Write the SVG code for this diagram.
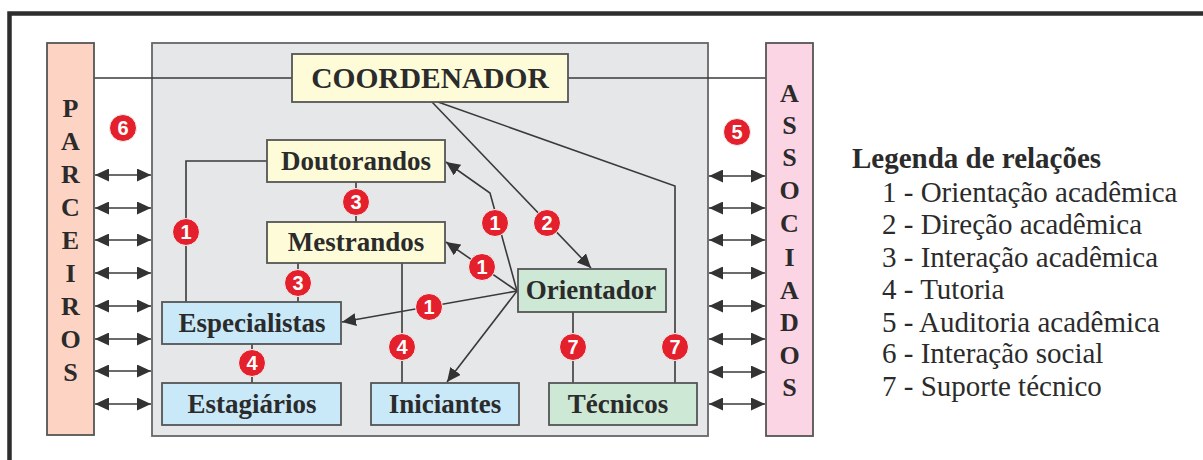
<svg xmlns="http://www.w3.org/2000/svg" width="1203" height="460" viewBox="0 0 1203 460">
<style>
.box{stroke:#555;stroke-width:1.8}
.lbl{font-family:"Liberation Serif","Times New Roman",serif;font-weight:bold;font-size:27px;fill:#2b2b2b;text-anchor:middle}
.vl{font-family:"Liberation Serif","Times New Roman",serif;font-weight:bold;font-size:26px;fill:#2b2b2b;text-anchor:middle}
.ln{fill:none;stroke:#3a3a3a;stroke-width:1.6}
.bd circle{fill:#e3202c;stroke:#f4f4f4;stroke-width:1}
.bd text{font-family:"Liberation Sans",Arial,sans-serif;font-weight:bold;font-size:20px;fill:#fff;text-anchor:middle}
.lg{font-family:"Liberation Serif","Times New Roman",serif;font-size:29px;fill:#2b2b2b}
</style>
<defs>
<marker id="ah" markerUnits="userSpaceOnUse" markerWidth="15" markerHeight="13" refX="14" refY="6.5" orient="auto-start-reverse">
<path d="M0,0 L14,6.5 L0,13 Z" fill="#333"/>
</marker>
</defs>
<rect width="1203" height="460" fill="#fff"/>
<path d="M9.5,460 V13.5 H1203" fill="none" stroke="#2d2d2d" stroke-width="4.5"/>

<g id="main-area"><rect x="152" y="43" width="556" height="393" fill="#e6e7e9" stroke="#666" stroke-width="1.8"/></g>

<g id="connectors">
<line class="ln" x1="94" y1="78" x2="292" y2="78"/>
<line class="ln" x1="568" y1="78" x2="766" y2="78"/>
<g marker-start="url(#ah)" marker-end="url(#ah)">
<line class="ln" x1="95" y1="175" x2="151" y2="175"/>
<line class="ln" x1="95" y1="208" x2="151" y2="208"/>
<line class="ln" x1="95" y1="240" x2="151" y2="240"/>
<line class="ln" x1="95" y1="273" x2="151" y2="273"/>
<line class="ln" x1="95" y1="306" x2="151" y2="306"/>
<line class="ln" x1="95" y1="339" x2="151" y2="339"/>
<line class="ln" x1="95" y1="371" x2="151" y2="371"/>
<line class="ln" x1="95" y1="404" x2="151" y2="404"/>
<line class="ln" x1="709" y1="176" x2="765" y2="176"/>
<line class="ln" x1="709" y1="208" x2="765" y2="208"/>
<line class="ln" x1="709" y1="240" x2="765" y2="240"/>
<line class="ln" x1="709" y1="273" x2="765" y2="273"/>
<line class="ln" x1="709" y1="306" x2="765" y2="306"/>
<line class="ln" x1="709" y1="339" x2="765" y2="339"/>
<line class="ln" x1="709" y1="372" x2="765" y2="372"/>
<line class="ln" x1="709" y1="404" x2="765" y2="404"/>
</g>
<polyline class="ln" points="267,161 186,161 186,302"/>
<line class="ln" x1="356" y1="182" x2="356" y2="222"/>
<line class="ln" x1="298" y1="263" x2="298" y2="302"/>
<line class="ln" x1="252" y1="344" x2="252" y2="383"/>
<line class="ln" x1="402" y1="263" x2="402" y2="383"/>
<line class="ln" x1="573" y1="312" x2="573" y2="383"/>
<polyline class="ln" points="438,102 675,186 675,383"/>
<line class="ln" x1="432" y1="102" x2="591" y2="268" marker-end="url(#ah)"/>
<polyline class="ln" points="517,291 490,193 446,162" marker-end="url(#ah)"/>
<line class="ln" x1="517" y1="291" x2="446" y2="242" marker-end="url(#ah)"/>
<line class="ln" x1="517" y1="291" x2="342" y2="322" marker-end="url(#ah)"/>
<line class="ln" x1="517" y1="291" x2="447" y2="382" marker-end="url(#ah)"/>
</g>

<g id="parceiros"><rect class="box" x="47" y="43" width="47" height="392" fill="#fdd3c3"/>
<text class="vl" x="70.5"><tspan x="70.5" y="117">P</tspan><tspan x="70.5" y="150">A</tspan><tspan x="70.5" y="183">R</tspan><tspan x="70.5" y="216">C</tspan><tspan x="70.5" y="249">E</tspan><tspan x="70.5" y="282">I</tspan><tspan x="70.5" y="315">R</tspan><tspan x="70.5" y="348">O</tspan><tspan x="70.5" y="381">S</tspan></text></g>

<g id="associados"><rect class="box" x="766" y="43" width="47" height="393" fill="#fcd5e5"/>
<text class="vl" x="789.5"><tspan x="789.5" y="102">A</tspan><tspan x="789.5" y="134">S</tspan><tspan x="789.5" y="166">S</tspan><tspan x="789.5" y="199">O</tspan><tspan x="789.5" y="232">C</tspan><tspan x="789.5" y="266">I</tspan><tspan x="789.5" y="299">A</tspan><tspan x="789.5" y="331">D</tspan><tspan x="789.5" y="364">O</tspan><tspan x="789.5" y="396">S</tspan></text></g>

<g id="coordenador"><rect class="box" x="292" y="54" width="276" height="48" fill="#fefcd8"/><text class="lbl" x="430" y="88" style="font-size:29.5px">COORDENADOR</text></g>
<g id="doutorandos"><rect class="box" x="267" y="140" width="178" height="42" fill="#fefcd8"/><text class="lbl" x="356" y="170">Doutorandos</text></g>
<g id="mestrandos"><rect class="box" x="267" y="222" width="178" height="41" fill="#fefcd8"/><text class="lbl" x="356" y="251">Mestrandos</text></g>
<g id="especialistas"><rect class="box" x="162" y="302" width="179" height="42" fill="#c9e8f8"/><text class="lbl" x="252" y="332">Especialistas</text></g>
<g id="estagiarios"><rect class="box" x="162" y="383" width="179" height="42" fill="#c9e8f8"/><text class="lbl" x="252" y="413">Estagiários</text></g>
<g id="iniciantes"><rect class="box" x="371" y="383" width="148" height="42" fill="#c9e8f8"/><text class="lbl" x="445" y="413">Iniciantes</text></g>
<g id="orientador"><rect class="box" x="518" y="269" width="148" height="43" fill="#cde8d5"/><text class="lbl" x="591" y="299">Orientador</text></g>
<g id="tecnicos"><rect class="box" x="549" y="383" width="148" height="42" fill="#cde8d5"/><text class="lbl" x="618" y="413">Técnicos</text></g>

<g id="badges" class="bd">
<g><circle cx="123" cy="128" r="13.5"/><text x="123" y="135">6</text></g>
<g><circle cx="737" cy="132" r="13.5"/><text x="737" y="139">5</text></g>
<g><circle cx="186" cy="232" r="13.5"/><text x="186" y="239">1</text></g>
<g><circle cx="356" cy="202" r="13.5"/><text x="356" y="209">3</text></g>
<g><circle cx="298" cy="283" r="13.5"/><text x="298" y="290">3</text></g>
<g><circle cx="252" cy="363" r="13.5"/><text x="252" y="370">4</text></g>
<g><circle cx="402" cy="347" r="13.5"/><text x="402" y="354">4</text></g>
<g><circle cx="573" cy="347" r="13.5"/><text x="573" y="354">7</text></g>
<g><circle cx="675" cy="347" r="13.5"/><text x="675" y="354">7</text></g>
<g><circle cx="547" cy="223" r="13.5"/><text x="547" y="230">2</text></g>
<g><circle cx="495" cy="223" r="13.5"/><text x="495" y="230">1</text></g>
<g><circle cx="482" cy="267" r="13.5"/><text x="482" y="274">1</text></g>
<g><circle cx="429" cy="307" r="13.5"/><text x="429" y="314">1</text></g>
</g>

<g id="legenda">
<text class="lg" x="852" y="168" style="font-weight:bold">Legenda de relações</text>
<text class="lg" x="882" y="202">1 - Orientação acadêmica</text>
<text class="lg" x="882" y="234">2 - Direção acadêmica</text>
<text class="lg" x="882" y="267">3 - Interação acadêmica</text>
<text class="lg" x="882" y="299">4 - Tutoria</text>
<text class="lg" x="882" y="332">5 - Auditoria acadêmica</text>
<text class="lg" x="882" y="363">6 - Interação social</text>
<text class="lg" x="882" y="396">7 - Suporte técnico</text>
</g>
</svg>
